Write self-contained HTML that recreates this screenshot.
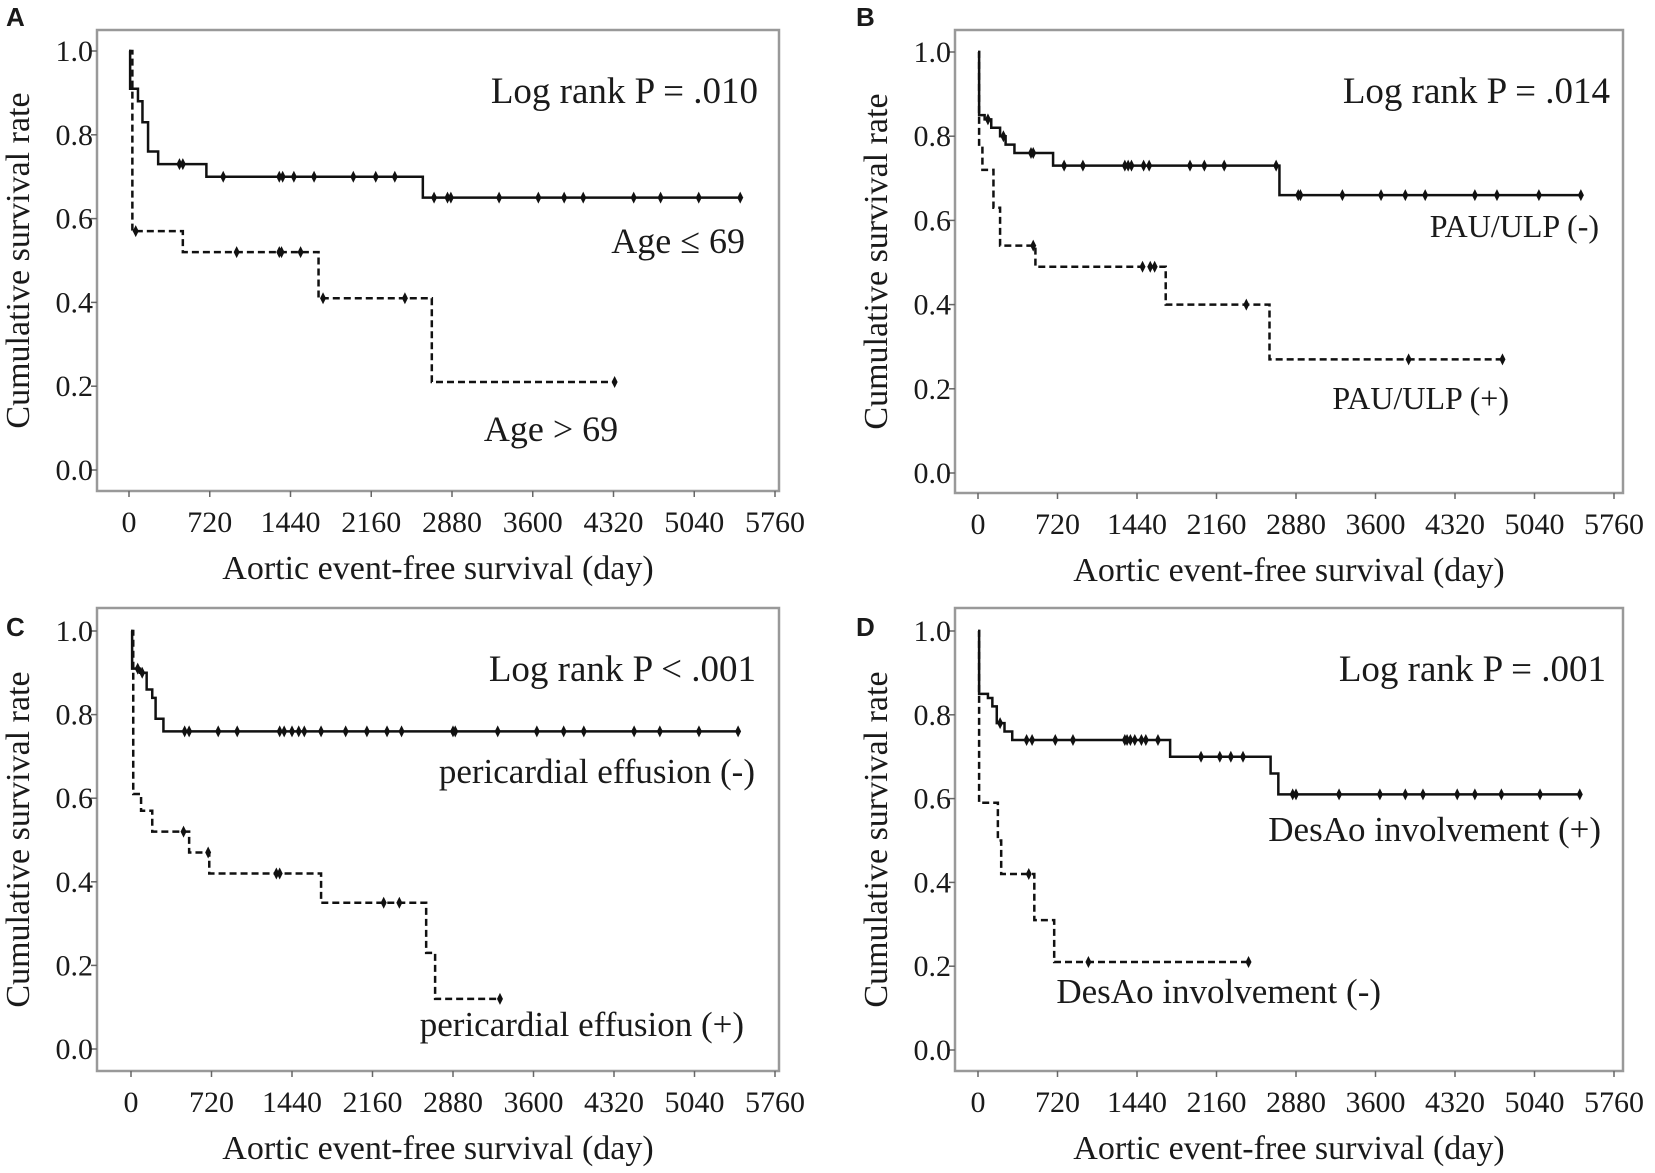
<!DOCTYPE html>
<html><head><meta charset="utf-8">
<style>
body{margin:0;background:#fff;}
svg{display:block;}
text{font-family:"Liberation Serif",serif;fill:#1a1a1a;}
.pl{font-family:"Liberation Sans",sans-serif;font-weight:bold;font-size:26px;}
</style></head>
<body>
<svg id="c" width="1655" height="1173" viewBox="0 0 1655 1173" xmlns="http://www.w3.org/2000/svg"></svg>
<script>
const xTicks=[0,720,1440,2160,2880,3600,4320,5040,5760];
const yTicks=[0.0,0.2,0.4,0.6,0.8,1.0];
// Panel A
const aSolidT=[0,10,80,120,170,260,690,2620,5450];
const aSolidS=[1.0,0.91,0.88,0.83,0.76,0.73,0.70,0.65,0.65];
const aSolidC=[450,480,840,1340,1370,1470,1650,2000,2200,2370,2720,2840,2870,3300,3650,3880,4050,4500,4740,5080,5450];
const aDashT=[0,30,480,1690,2700,4330];
const aDashS=[1.0,0.57,0.52,0.41,0.21,0.21];
const aDashC=[60,960,1340,1360,1530,1730,2460,4330];
// Panel B
const bSolidT=[0,10,60,120,200,250,330,680,2730,5460];
const bSolidS=[1.0,0.85,0.84,0.82,0.80,0.78,0.76,0.73,0.66,0.66];
const bSolidC=[90,230,480,500,780,950,1330,1360,1390,1500,1550,1920,2050,2230,2700,2900,2920,3300,3650,3870,4050,4500,4700,5080,5460];
const bDashT=[0,10,40,140,200,520,1700,2640,4750];
const bDashS=[1.0,0.78,0.72,0.63,0.54,0.49,0.40,0.27,0.27];
const bDashC=[500,1490,1560,1600,2430,3900,4750];
// Panel C
const cSolidT=[0,10,80,140,190,220,290,5430];
const cSolidS=[1.0,0.91,0.90,0.86,0.84,0.79,0.76,0.76];
const cSolidC=[60,100,480,520,780,950,1330,1370,1440,1500,1550,1700,1920,2110,2290,2420,2880,2900,3280,3630,3870,4050,4500,4730,5080,5430];
const cDashT=[0,20,90,190,520,700,1700,2640,2720,3300];
const cDashS=[1.0,0.61,0.57,0.52,0.47,0.42,0.35,0.23,0.12,0.12];
const cDashC=[470,690,1300,1330,2260,2400,3300];
// Panel D
const dSolidT=[0,10,90,130,170,240,310,1740,2650,2720,5450];
const dSolidS=[1.0,0.85,0.84,0.82,0.78,0.76,0.74,0.70,0.66,0.61,0.61];
const dSolidC=[200,440,490,700,860,1330,1350,1380,1420,1480,1520,1630,2020,2190,2290,2400,2850,2880,3270,3640,3870,4030,4340,4500,4740,5090,5450];
const dDashT=[0,10,180,210,510,690,2450];
const dDashS=[1.0,0.59,0.50,0.42,0.31,0.21,0.21];
const dDashC=[460,1000,2450];

const NS="http://www.w3.org/2000/svg";
const svg=document.getElementById('c');
function mk(tag,attrs,parent,txt){const e=document.createElementNS(NS,tag);for(const k in attrs)e.setAttribute(k,attrs[k]);if(txt!==undefined)e.textContent=txt;(parent||svg).appendChild(e);return e;}

const panels=[
 {id:'a',L:'A',lx:6,ly:26,box:[97,30,779,491],x0:129,x1:775,y1:51,y0:470,
  s:[aSolidT,aSolidS,aSolidC],d:[aDashT,aDashS,aDashC],
  labels:[['Log rank P = .010',758,103,'end',37],['Age ≤ 69',745,253,'end',36],['Age > 69',551,441,'middle',36]]},
 {id:'b',L:'B',lx:856,ly:26,box:[955,30,1623,493],x0:978,x1:1614,y1:52,y0:473,
  s:[bSolidT,bSolidS,bSolidC],d:[bDashT,bDashS,bDashC],
  labels:[['Log rank P = .014',1610,103,'end',37],['PAU/ULP (-)',1599,237,'end',32],['PAU/ULP (+)',1509,409,'end',32]]},
 {id:'c',L:'C',lx:6,ly:636,box:[97,608,779,1071],x0:131,x1:775,y1:631,y0:1049,
  s:[cSolidT,cSolidS,cSolidC],d:[cDashT,cDashS,cDashC],
  labels:[['Log rank P < .001',756,681,'end',37],['pericardial effusion (-)',755,783,'end',35],['pericardial effusion (+)',744,1036,'end',35]]},
 {id:'d',L:'D',lx:856,ly:636,box:[955,608,1623,1071],x0:978,x1:1614,y1:631,y0:1050,
  s:[dSolidT,dSolidS,dSolidC],d:[dDashT,dDashS,dDashC],
  labels:[['Log rank P = .001',1606,681,'end',37],['DesAo involvement (+)',1601,841,'end',35],['DesAo involvement (-)',1381,1003,'end',35]]}
];

panels.forEach(p=>{
  const g=mk('g',{});
  
  
  const X=v=>p.x0+(p.x1-p.x0)*v/5760;
  const Y=v=>p.y0+(p.y1-p.y0)*v;
  const pl=mk('text',{x:p.lx,y:p.ly,class:'pl'},g,p.L);
  
  
  const [bx0,by0,bx1,by1]=p.box;
  const fr=mk('rect',{x:bx0,y:by0,width:bx1-bx0,height:by1-by0,fill:'none',stroke:'#999','stroke-width':2.5},g);
  
  
  yTicks.forEach(t=>{
    mk('line',{x1:bx0-6,x2:bx0,y1:Y(t),y2:Y(t),stroke:'#666','stroke-width':1.5},g);
    const tl=mk('text',{x:bx0-4,y:Y(t)+10,'text-anchor':'end','font-size':30},g,t.toFixed(1));
    
    
  });
  xTicks.forEach(t=>{
    mk('line',{x1:X(t),x2:X(t),y1:by1,y2:by1+6,stroke:'#666','stroke-width':1.5},g);
    const tl=mk('text',{x:X(t),y:by1+41,'text-anchor':'middle','font-size':30},g,String(t));
    
    
  });
  const cx=(bx0+bx1)/2;
  const xt=mk('text',{x:cx,y:by1+88,'text-anchor':'middle','font-size':34},g,'Aortic event-free survival (day)');
  
  
  const cy=(by0+by1)/2;
  const yx=bx0-68;
  const yt=mk('text',{x:yx,y:cy,'text-anchor':'middle','font-size':34,transform:`rotate(-90 ${yx} ${cy})`},g,'Cumulative survival rate');
  
  
  function curve(T,S,C,dash,name){
    let d=`M${X(T[0])},${Y(S[0])}`;
    for(let i=1;i<T.length;i++){d+=` H${X(T[i])} V${Y(S[i])}`;}
    const path=mk('path',{d:d,fill:'none',stroke:'#111','stroke-width':2.5,'stroke-dasharray':dash?'7,4':'none'},g);
    
    
    C.forEach(c=>{
      let s=S[0];
      for(let i=0;i<T.length;i++){if(T[i]<=c)s=S[i];}
      const m=mk('path',{d:`M${X(c)},${Y(s)-6} L${X(c)+3},${Y(s)} L${X(c)},${Y(s)+6} L${X(c)-3},${Y(s)} Z`,fill:'#111'},g);
      
      
    });
  }
  curve(p.s[0],p.s[1],p.s[2],false,'solid');
  curve(p.d[0],p.d[1],p.d[2],true,'dashed');
  p.labels.forEach((l,i)=>{
    const t=mk('text',{x:l[1],y:l[2],'text-anchor':l[3],'font-size':l[4]},g,l[0]);
    
    
  });
});
</script>
</body></html>
